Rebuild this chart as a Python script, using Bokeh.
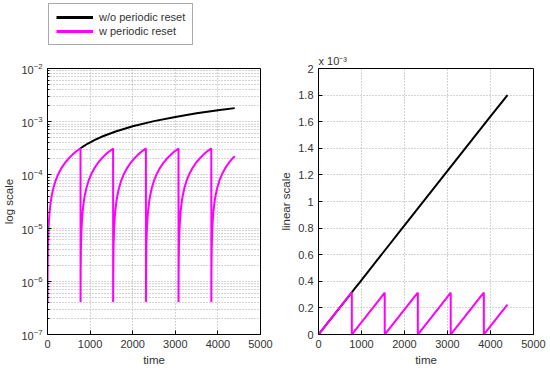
from bokeh.plotting import figure
from bokeh.layouts import row, column
from bokeh.models import (FixedTicker, CustomJSTickFormatter, Legend, LegendItem,
                          Range1d)
from bokeh.embed import file_html
from bokeh.resources import INLINE

# ---------------- data ----------------
# start time of each ramp of the "w periodic reset" series, and the end time
reset_t = [0, 775, 1540, 2310, 3075, 3845]
end_t = 4395
# value reached at the end of each ramp (just before each reset, and at the end)
peak_v = [3.17e-4, 3.14e-4, 3.15e-4, 3.14e-4, 3.15e-4, 2.25e-4]
# shape of one ramp: time since reset -> value
ramp_dt = [1, 2, 5, 10, 20, 35, 50, 75, 100, 140, 190, 250, 320, 400, 490, 580, 670]
ramp_v = [4.1e-7, 8.2e-7, 2.05e-6, 4.1e-6, 8.2e-6, 1.43e-5, 2.05e-5, 3.08e-5, 4.1e-5,
          5.74e-5, 7.79e-5, 1.025e-4, 1.31e-4, 1.64e-4, 2.01e-4, 2.38e-4, 2.75e-4]
# "w/o periodic reset" series
black_t = [0, 775, 850, 950, 1100, 1300, 1600, 2000, 2500, 3000, 3500, 4000, 4395]
black_v = [0, 3.17e-4, 3.48e-4, 3.89e-4, 4.51e-4, 5.33e-4, 6.56e-4, 8.2e-4,
           1.025e-3, 1.23e-3, 1.435e-3, 1.64e-3, 1.8e-3]

series_labels = ["w/o periodic reset", "w periodic reset"]
x_ticks = [0, 1000, 2000, 3000, 4000, 5000]
log_ticks = [1e-7, 1e-6, 1e-5, 1e-4, 1e-3, 1e-2]
log_minor = [m * d for d in [1e-7, 1e-6, 1e-5, 1e-4, 1e-3] for m in [2, 3, 4, 5, 6, 7, 8, 9]]
lin_ticks = [0, 0.0002, 0.0004, 0.0006, 0.0008, 0.001, 0.0012, 0.0014, 0.0016, 0.0018, 0.002]

# ---------------- build series ----------------
mag_t_log, mag_v_log = [], []
mag_t_lin, mag_v_lin = [], []
for i, t0 in enumerate(reset_t):
    t1 = reset_t[i + 1] if i + 1 < len(reset_t) else end_t
    mag_t_lin.append(t0)
    mag_v_lin.append(0.0)
    for dt, v in zip(ramp_dt, ramp_v):
        if t0 + dt < t1:
            mag_t_log.append(t0 + dt); mag_v_log.append(v)
            mag_t_lin.append(t0 + dt); mag_v_lin.append(v)
    mag_t_log.append(t1); mag_v_log.append(peak_v[i])
    mag_t_lin.append(t1); mag_v_lin.append(peak_v[i])

FONT = "Liberation Sans"
TXT = "#333333"
GRID = "#a8a8a8"
BLACK = "black"
MAGENTA = "#ff00ff"


def style(p):
    p.outline_line_color = "black"
    p.outline_line_alpha = 1.0
    p.background_fill_color = "white"
    p.border_fill_color = "white"
    for ax in (p.xaxis[0], p.yaxis[0]):
        ax.axis_line_color = "black"
        ax.major_tick_line_color = "black"
        ax.major_tick_in = 4
        ax.major_tick_out = 0
        ax.minor_tick_in = 2
        ax.minor_tick_out = 0
        ax.major_label_text_font = FONT
        ax.major_label_text_font_size = "11px"
        ax.major_label_text_color = TXT
        ax.axis_label_text_font = FONT
        ax.axis_label_text_font_size = "11.5px"
        ax.axis_label_text_font_style = "normal"
        ax.axis_label_text_color = TXT
        ax.major_label_standoff = 5
        ax.axis_label_standoff = 3
    p.xaxis[0].ticker = FixedTicker(ticks=x_ticks, minor_ticks=[])
    p.xaxis[0].axis_label = "time"
    p.xgrid.grid_line_color = GRID
    p.xgrid.grid_line_dash = "1 2"
    p.ygrid.grid_line_color = GRID
    p.ygrid.grid_line_dash = "1 2"


# ---------------- legend strip on top ----------------
pl = figure(width=275, height=50, x_range=Range1d(0, 1), y_range=Range1d(0, 1),
            output_backend="svg", toolbar_location=None, min_border=0)
pl.axis.visible = False
pl.grid.visible = False
pl.outline_line_color = None
pl.background_fill_color = "white"
pl.border_fill_color = "white"
# legend-key renderers: placed outside the visible range so only their keys show
lr_b = pl.line([5, 6], [5, 6], line_color=BLACK, line_width=3)
lr_m = pl.line([5, 6], [5, 6], line_color=MAGENTA, line_width=3)
legend = Legend(items=[LegendItem(label=series_labels[0], renderers=[lr_b]),
                       LegendItem(label=series_labels[1], renderers=[lr_m])],
                location=(48, 5))
legend.label_text_font = FONT
legend.label_text_font_size = "11px"
legend.label_text_color = TXT
legend.glyph_width = 37
legend.glyph_height = 12
legend.label_height = 12
legend.spacing = 2
legend.padding = 7
legend.margin = 0
legend.label_standoff = 6
legend.border_line_color = "#555555"
legend.background_fill_color = "white"
legend.background_fill_alpha = 1.0
pl.add_layout(legend, "center")

# ---------------- left: log scale ----------------
p1 = figure(frame_width=213, frame_height=266, y_axis_type="log",
            x_range=Range1d(0, 5000), y_range=Range1d(1e-7, 1e-2),
            output_backend="svg", toolbar_location=None,
            min_border_left=47, min_border_right=15, min_border_top=18, min_border_bottom=36)
style(p1)
p1.yaxis[0].ticker = FixedTicker(ticks=log_ticks, minor_ticks=log_minor)
p1.yaxis[0].axis_label = "log scale"
p1.ygrid.minor_grid_line_color = GRID
p1.ygrid.minor_grid_line_dash = "1 2"

p1.line(black_t[1:], black_v[1:], line_color=BLACK, line_width=2)
p1.line(mag_t_log, mag_v_log, line_color=MAGENTA, line_width=2)

# ---------------- right: linear scale ----------------
p2 = figure(frame_width=215, frame_height=266,
            x_range=Range1d(0, 5000), y_range=Range1d(0, 0.002),
            output_backend="svg", toolbar_location=None,
            min_border_left=43, min_border_right=17, min_border_top=18, min_border_bottom=36)
style(p2)
p2.yaxis[0].ticker = FixedTicker(ticks=lin_ticks, minor_ticks=[])
p2.yaxis[0].formatter = CustomJSTickFormatter(code="return String(Math.round(tick*1e4)/10);")
p2.yaxis[0].axis_label = "linear scale"
p2.title.text = "x 10\u207b\u00b3"
p2.title.align = "left"
p2.title.text_font = FONT
p2.title.text_font_size = "11px"
p2.title.text_font_style = "normal"
p2.title.text_color = TXT
p2.title.standoff = 3

p2.line(black_t, black_v, line_color=BLACK, line_width=2)
p2.line(mag_t_lin, mag_v_lin, line_color=MAGENTA, line_width=2)

layout = column(pl, row(p1, p2))
open("out.html", "w").write(file_html(layout, INLINE))
